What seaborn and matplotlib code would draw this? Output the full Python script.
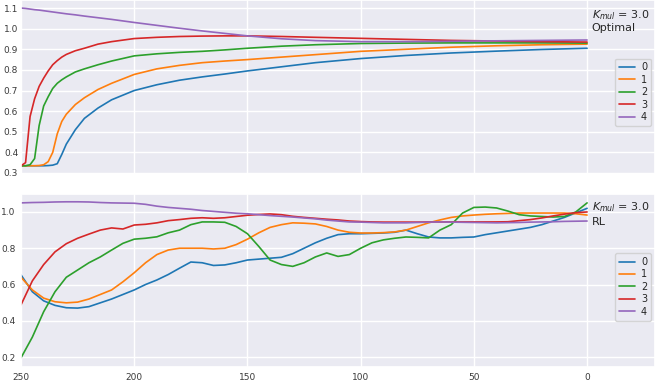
import pandas as pd
import matplotlib
matplotlib.use("Agg")
import matplotlib.pyplot as plt
import seaborn as sns

# time steps (counting down to 0)
opt_steps = [250, 248, 246, 244, 242, 240, 238, 236, 234, 232, 230, 226, 222, 216, 210,
             200, 190, 180, 170, 160, 150, 135, 120, 100, 80, 60, 40, 20, 0]
rl_steps = list(range(250, -1, -5))

# Optimal policy
opt_0 = [0.335, 0.335, 0.335, 0.335, 0.335, 0.335, 0.336, 0.338, 0.345, 0.39, 0.44, 0.51, 0.565, 0.615,
         0.655, 0.70, 0.728, 0.75, 0.766, 0.78, 0.795, 0.815, 0.835, 0.855, 0.87, 0.882, 0.891, 0.899, 0.905]
opt_1 = [0.335, 0.335, 0.335, 0.335, 0.336, 0.34, 0.355, 0.40, 0.49, 0.55, 0.585, 0.632, 0.665, 0.705,
         0.735, 0.778, 0.805, 0.822, 0.835, 0.843, 0.85, 0.862, 0.874, 0.89, 0.90, 0.91, 0.917, 0.922, 0.925]
opt_2 = [0.335, 0.335, 0.34, 0.37, 0.53, 0.625, 0.67, 0.71, 0.735, 0.752, 0.766, 0.79, 0.805, 0.825,
         0.843, 0.868, 0.878, 0.885, 0.89, 0.897, 0.905, 0.915, 0.922, 0.928, 0.93, 0.931, 0.931, 0.931, 0.93]
opt_3 = [0.335, 0.35, 0.574, 0.66, 0.72, 0.76, 0.795, 0.825, 0.845, 0.862, 0.875, 0.893, 0.905, 0.925,
         0.937, 0.952, 0.958, 0.962, 0.964, 0.965, 0.965, 0.962, 0.958, 0.953, 0.948, 0.943, 0.94, 0.937, 0.935]
opt_4 = [1.10, 1.098, 1.095, 1.092, 1.09, 1.087, 1.084, 1.081, 1.078, 1.075, 1.072, 1.067, 1.061, 1.053,
         1.045, 1.03, 1.016, 1.002, 0.989, 0.977, 0.965, 0.951, 0.942, 0.937, 0.937, 0.939, 0.941, 0.943, 0.945]

# RL policy
rl_0 = [0.653, 0.56, 0.51, 0.485, 0.472, 0.47, 0.478, 0.499, 0.52, 0.545, 0.57, 0.60, 0.625, 0.655, 0.69,
        0.724, 0.72, 0.705, 0.708, 0.72, 0.735, 0.74, 0.745, 0.75, 0.77, 0.80, 0.83, 0.855, 0.875, 0.88,
        0.88, 0.882, 0.884, 0.888, 0.90, 0.88, 0.862, 0.857, 0.857, 0.86, 0.862, 0.875, 0.885, 0.895,
        0.905, 0.915, 0.93, 0.95, 0.97, 0.995, 1.02]
rl_1 = [0.64, 0.57, 0.525, 0.505, 0.499, 0.503, 0.52, 0.545, 0.57, 0.615, 0.665, 0.72, 0.765, 0.79, 0.80,
        0.80, 0.80, 0.796, 0.80, 0.82, 0.85, 0.885, 0.915, 0.93, 0.94, 0.938, 0.934, 0.92, 0.90, 0.888,
        0.884, 0.884, 0.886, 0.89, 0.90, 0.92, 0.94, 0.956, 0.97, 0.978, 0.983, 0.987, 0.99, 0.992,
        0.994, 0.994, 0.994, 0.994, 0.994, 0.99, 0.983]
rl_2 = [0.196, 0.31, 0.45, 0.56, 0.64, 0.68, 0.72, 0.752, 0.79, 0.827, 0.85, 0.855, 0.863, 0.885, 0.90,
        0.93, 0.945, 0.945, 0.943, 0.92, 0.88, 0.81, 0.735, 0.71, 0.70, 0.72, 0.752, 0.774, 0.755, 0.765,
        0.80, 0.83, 0.846, 0.855, 0.862, 0.86, 0.857, 0.90, 0.93, 0.994, 1.025, 1.027, 1.022, 1.005,
        0.985, 0.978, 0.975, 0.972, 0.975, 1.0, 1.05]
rl_3 = [0.488, 0.62, 0.71, 0.78, 0.825, 0.855, 0.878, 0.90, 0.912, 0.906, 0.928, 0.932, 0.94, 0.952, 0.958,
        0.965, 0.968, 0.965, 0.968, 0.975, 0.982, 0.986, 0.989, 0.985, 0.976, 0.97, 0.965, 0.96, 0.956, 0.95,
        0.947, 0.945, 0.944, 0.944, 0.944, 0.944, 0.945, 0.945, 0.945, 0.945, 0.945, 0.945, 0.945, 0.946,
        0.952, 0.958, 0.967, 0.978, 0.988, 0.996, 1.0]
rl_4 = [1.05, 1.052, 1.053, 1.055, 1.056, 1.056, 1.055, 1.052, 1.05, 1.049, 1.048, 1.042, 1.032, 1.025, 1.02,
        1.015, 1.008, 1.003, 0.998, 0.993, 0.99, 0.985, 0.98, 0.976, 0.972, 0.967, 0.962, 0.955, 0.95, 0.945,
        0.944, 0.942, 0.94, 0.94, 0.94, 0.942, 0.944, 0.945, 0.944, 0.943, 0.942, 0.941, 0.94, 0.941,
        0.942, 0.944, 0.945, 0.946, 0.948, 0.949, 0.95]

series_names = ["0", "1", "2", "3", "4"]


def to_long(steps, series):
    frames = []
    for name, vals in zip(series_names, series):
        frames.append(pd.DataFrame({"t": steps, "value": vals, "series": name}))
    return pd.concat(frames, ignore_index=True)


opt_df = to_long(opt_steps, [opt_0, opt_1, opt_2, opt_3, opt_4])
rl_df = to_long(rl_steps, [rl_0, rl_1, rl_2, rl_3, rl_4])

sns.set_theme(style="darkgrid")
plt.rcParams['font.family'] = ['DejaVu Sans']

fig = plt.figure(figsize=(6.57, 3.88), dpi=100)
ax1 = fig.add_axes([0.032, 0.5515, 0.965, 0.4485])
ax2 = fig.add_axes([0.032, 0.054, 0.965, 0.446])

palette = sns.color_palette("tab10", 5)

# top panel: optimal
sns.lineplot(data=opt_df, x="t", y="value", hue="series", palette=palette, linewidth=1.2, ax=ax1)
ax1.set_xlim(250, -30)
ax1.set_ylim(0.295, 1.139)
ax1.set_yticks([0.3, 0.4, 0.5, 0.6, 0.7, 0.8, 0.9, 1.0, 1.1])
ax1.set_xticks([250, 200, 150, 100, 50, 0])
ax1.set_xticklabels([])
ax1.set_xlabel("")
ax1.set_ylabel("")
ax1.tick_params(labelsize=6.5, pad=2, length=0, colors="#3a3a3a")
ax1.text(0.9, 0.915, "$K_{mul}$ = 3.0", transform=ax1.transAxes, fontsize=8, va="center")
ax1.text(0.9, 0.84, "Optimal", transform=ax1.transAxes, fontsize=8, va="center")
ax1.legend(loc="upper right", bbox_to_anchor=(0.997, 0.675), fontsize=7, handlelength=1.7,
           handletextpad=0.6, borderaxespad=0.2, labelspacing=0.25)

# bottom panel: RL
sns.lineplot(data=rl_df, x="t", y="value", hue="series", palette=palette, linewidth=1.2, ax=ax2)
ax2.set_xlim(250, -30)
ax2.set_ylim(0.145, 1.099)
ax2.set_yticks([0.2, 0.4, 0.6, 0.8, 1.0])
ax2.set_xticks([250, 200, 150, 100, 50, 0])
ax2.set_xlabel("")
ax2.set_ylabel("")
ax2.tick_params(labelsize=6.5, pad=4, length=0, colors="#3a3a3a")
ax2.text(0.9, 0.925, "$K_{mul}$ = 3.0", transform=ax2.transAxes, fontsize=8, va="center")
ax2.text(0.9, 0.84, "RL", transform=ax2.transAxes, fontsize=8, va="center")
ax2.legend(loc="upper right", bbox_to_anchor=(0.997, 0.67), fontsize=7, handlelength=1.7,
           handletextpad=0.6, borderaxespad=0.2, labelspacing=0.25)

fig.savefig("out.png", dpi=100)
